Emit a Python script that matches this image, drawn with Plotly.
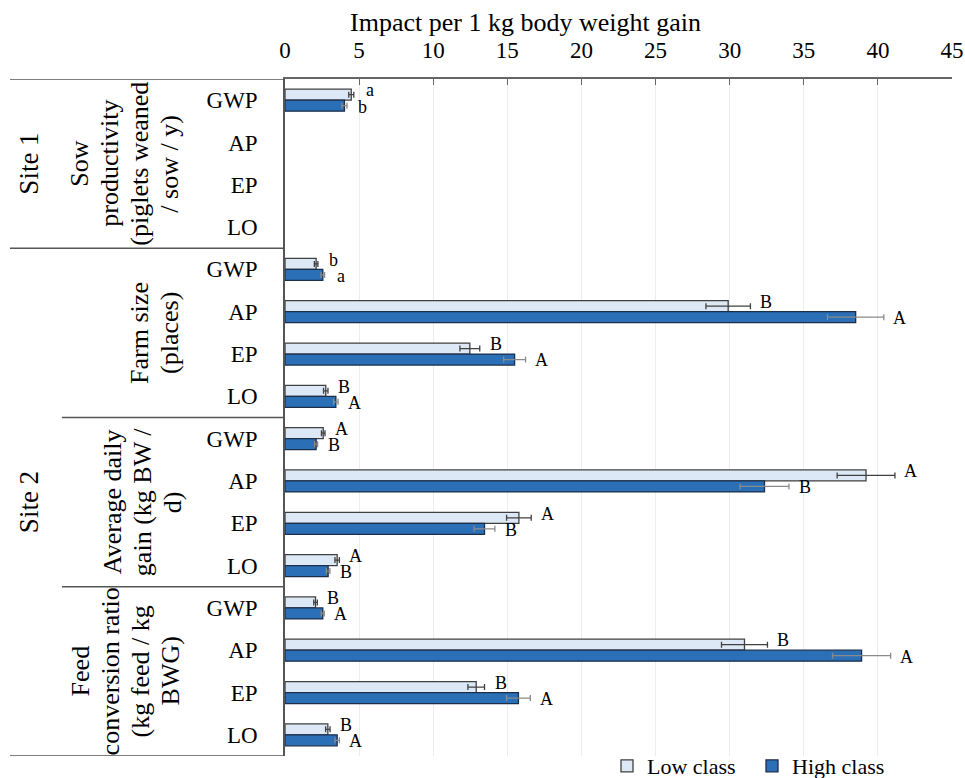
import plotly.graph_objects as go

# ---------------- data ----------------
impacts = ["GWP", "AP", "EP", "LO"]
groups = [["Sow", "productivity", "(piglets weaned", "/ sow / y)"],
          ["Farm size", "(places)"],
          ["Average daily", "gain (kg BW /", "d)"],
          ["Feed", "conversion ratio", "(kg feed / kg", "BWG)"]]
sites = ["Site 1", "Site 2"]
x_title = "Impact per 1 kg body weight gain"

low_vals = [4.47, None, None, None,
            2.10, 29.9, 12.47, 2.75,
            2.58, 39.2, 15.78, 3.52,
            2.06, 31.0, 12.90, 2.89]
low_err = [0.17, None, None, None,
           0.12, 1.50, 0.67, 0.15,
           0.12, 1.95, 0.83, 0.15,
           0.12, 1.55, 0.56, 0.15]
high_vals = [4.01, None, None, None,
             2.55, 38.5, 15.49, 3.43,
             2.10, 32.35, 13.46, 2.91,
             2.55, 38.9, 15.75, 3.52]
high_err = [0.17, None, None, None,
            0.12, 1.90, 0.74, 0.15,
            0.10, 1.65, 0.70, 0.12,
            0.10, 1.96, 0.80, 0.15]
low_letters = ["a", "", "", "", "b", "B", "B", "B", "A", "A", "A", "A", "B", "B", "B", "B"]
high_letters = ["b", "", "", "", "a", "A", "A", "A", "B", "B", "B", "B", "A", "A", "A", "A"]

# ---------------- layout constants ----------------
FONT = "Liberation Serif"
W, H = 965, 778
ML, MR, MT, MB = 285, 13, 79, 22
PW = W - ML - MR
PH = H - MT - MB
n_rows = len(groups) * len(impacts)
rows = list(range(n_rows))
tick_text = impacts * len(groups)
BW = 0.26


def px_to_paper(px):
    return (px - ML) / PW


fig = go.Figure()
fig.add_trace(go.Bar(
    name="Low class", orientation="h", x=low_vals, y=rows,
    width=BW, offset=-BW,
    marker=dict(color="#dce8f5", line=dict(color="#404040", width=1.3)),
    error_x=dict(type="data", array=low_err, color="#404040", thickness=1.3, width=3),
))
fig.add_trace(go.Bar(
    name="High class", orientation="h", x=high_vals, y=rows,
    width=BW, offset=0,
    marker=dict(color="#2b70b6", line=dict(color="#1c2e4a", width=1.3)),
    error_x=dict(type="data", array=high_err, color="#8a8a8a", thickness=1.3, width=3),
))

annotations = []
# significance letters
for r in rows:
    for vals, errs, letters, dy in ((low_vals, low_err, low_letters, -BW / 2 - 0.1),
                                    (high_vals, high_err, high_letters, BW / 2 + 0.02)):
        if vals[r] is None or not letters[r]:
            continue
        annotations.append(dict(
            x=vals[r] + errs[r], y=r + dy, xref="x", yref="y",
            text=letters[r], showarrow=False, xanchor="center", yanchor="middle",
            xshift=16, font=dict(family=FONT, size=18, color="black")))

# axis title (placed as in the reference, left of plot centre)
annotations.append(dict(
    x=px_to_paper(525), y=1 + (79 - 22) / PH, xref="paper", yref="paper",
    text=x_title, showarrow=False, xanchor="center", yanchor="middle",
    font=dict(family=FONT, size=26, color="black")))

# group labels (rotated), one annotation per text line
group_cx = [125, 155, 142, 125]
PITCH = 30
for g, lines in enumerate(groups):
    n = len(lines)
    for i, line in enumerate(lines):
        cx = group_cx[g] + (i - (n - 1) / 2) * PITCH
        annotations.append(dict(
            x=px_to_paper(cx), y=g * 4 + 1.5, xref="paper", yref="y",
            text=line, showarrow=False, textangle=-90, xanchor="center", yanchor="middle",
            font=dict(family=FONT, size=26, color="black")))

# site labels
site_y = [1.5, 9.5]
for s, lab in enumerate(sites):
    annotations.append(dict(
        x=px_to_paper(29), y=site_y[s], xref="paper", yref="y",
        text=lab, showarrow=False, textangle=-90, xanchor="center", yanchor="middle",
        font=dict(family=FONT, size=27, color="black")))

# table lines
shapes = []
line_specs = [(-0.5, 10), (3.5, 10), (7.5, 62), (11.5, 62), (15.5, 10)]
for yv, xstart in line_specs:
    shapes.append(dict(type="line", xref="paper", yref="y",
                       x0=px_to_paper(xstart), x1=0, y0=yv, y1=yv,
                       line=dict(color="#555555", width=1.5)))

fig.update_layout(
    width=W, height=H,
    margin=dict(l=ML, r=MR, t=MT, b=MB, autoexpand=False),
    paper_bgcolor="white", plot_bgcolor="white",
    barmode="overlay",
    font=dict(family=FONT, color="black"),
    annotations=annotations, shapes=shapes,
    legend=dict(orientation="h", xref="container", yref="container",
                x=607 / W, y=1 - 766 / H,
                xanchor="left", yanchor="middle",
                font=dict(family=FONT, size=22, color="black"),
                entrywidth=100, entrywidthmode="pixels",
                bgcolor="rgba(0,0,0,0)"),
    showlegend=True,
)
fig.update_xaxes(
    side="top", range=[0, 45], dtick=5, tick0=0,
    showgrid=True, gridcolor="#ececec", gridwidth=1,
    zeroline=False, showline=True, linecolor="#666666", linewidth=1.5,
    ticks="inside", ticklen=6, tickcolor="#666666",
    ticklabelstandoff=10,
    tickfont=dict(family=FONT, size=23, color="black"),
)
fig.update_yaxes(
    range=[n_rows - 0.5, -0.5], tickmode="array", tickvals=rows, ticktext=tick_text,
    showgrid=False, zeroline=False, showline=True, linecolor="#555555", linewidth=1.5,
    ticks="", ticklabelstandoff=21,
    tickfont=dict(family=FONT, size=23, color="black"),
)

fig.write_html("out.html")
